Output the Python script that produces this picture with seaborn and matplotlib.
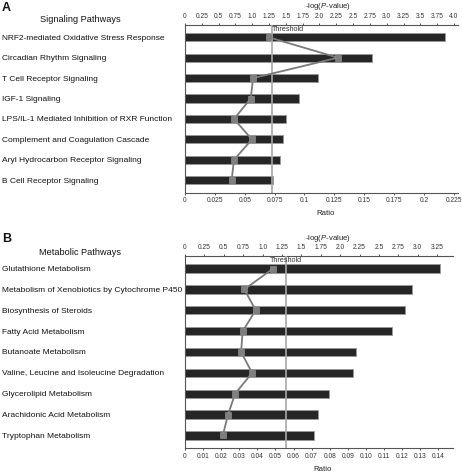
import matplotlib
matplotlib.use("Agg")
import matplotlib.pyplot as plt
import numpy as np
import seaborn as sns

# Panel A - signaling pathways
sig_names = [
    "NRF2-mediated Oxidative Stress Response",
    "Circadian Rhythm Signaling",
    "T Cell Receptor Signaling",
    "IGF-1 Signaling",
    "LPS/IL-1 Mediated Inhibition of RXR Function",
    "Complement and Coagulation Cascade",
    "Aryl Hydrocarbon Receptor Signaling",
    "B Cell Receptor Signaling",
]
sig_logp = [3.86, 2.78, 1.98, 1.69, 1.50, 1.45, 1.41, 1.31]
sig_ratio = [0.070, 0.128, 0.057, 0.055, 0.041, 0.056, 0.041, 0.039]
sig_top_ticks = [0, 0.25, 0.5, 0.75, 1.0, 1.25, 1.5, 1.75, 2.0, 2.25, 2.5, 2.75, 3.0, 3.25, 3.5, 3.75, 4.0]
sig_top_labels = ["0", "0.25", "0.5", "0.75", "1.0", "1.25", "1.5", "1.75", "2.0", "2.25",
                  "2.5", "2.75", "3.0", "3.25", "3.5", "3.75", "4.0"]
sig_ratio_ticks = [0, 0.025, 0.05, 0.075, 0.1, 0.125, 0.15, 0.175, 0.2, 0.225]
sig_ratio_labels = ["0", "0.025", "0.05", "0.075", "0.1", "0.125", "0.15", "0.175", "0.2", "0.225"]

# Panel B - metabolic pathways
met_names = [
    "Glutathione Metabolism",
    "Metabolism of Xenobiotics by Cytochrome P450",
    "Biosynthesis of Steroids",
    "Fatty Acid Metabolism",
    "Butanoate Metabolism",
    "Valine, Leucine and Isoleucine Degradation",
    "Glycerolipid Metabolism",
    "Arachidonic Acid Metabolism",
    "Tryptophan Metabolism",
]
met_logp = [3.28, 2.93, 2.84, 2.67, 2.21, 2.16, 1.86, 1.72, 1.66]
met_ratio = [0.0487, 0.0328, 0.0391, 0.0319, 0.0310, 0.0371, 0.0277, 0.0238, 0.0209]
met_top_ticks = [0, 0.25, 0.5, 0.75, 1.0, 1.25, 1.5, 1.75, 2.0, 2.25, 2.5, 2.75, 3.0, 3.25]
met_top_labels = ["0", "0.25", "0.5", "0.75", "1.0", "1.25", "1.5", "1.75", "2.0", "2.25",
                  "2.5", "2.75", "3.0", "3.25"]
met_ratio_ticks = [0, 0.01, 0.02, 0.03, 0.04, 0.05, 0.06, 0.07, 0.08, 0.09, 0.10, 0.11, 0.12, 0.13, 0.14]
met_ratio_labels = ["0", "0.01", "0.02", "0.03", "0.04", "0.05", "0.06", "0.07", "0.08", "0.09",
                    "0.10", "0.11", "0.12", "0.13", "0.14"]

threshold = 1.3

sns.set_style("white")
plt.rcParams["font.family"] = ["Liberation Sans", "DejaVu Sans"]
plt.rcParams["mathtext.fontset"] = "custom"
plt.rcParams["mathtext.rm"] = "Liberation Sans"
plt.rcParams["mathtext.it"] = "Liberation Sans:italic"

W, H = 462, 473
fig = plt.figure(figsize=(W / 100, H / 100), dpi=100)
tick_font = ["Liberation Sans Narrow", "Liberation Sans"]


def draw_panel(rect, names, logp, ratio, top_max, ratio_max, top_ticks, top_labels,
               ratio_ticks, ratio_labels, title, letter, title_y, thr_ha, thr_x):
    left, top, right, bottom = rect
    ax = fig.add_axes([left / W, 1 - bottom / H, (right - left) / W, (bottom - top) / H])
    n = len(names)

    sns.barplot(x=logp, y=names, orient="h", ax=ax, color="#262626", saturation=1,
                width=0.4, edgecolor="#9a9a9a", linewidth=0.6)
    ax.axvline(threshold, color="#a8a8a8", lw=1.2, zorder=5)
    ax.text(thr_x, -0.4, "Threshold", ha=thr_ha, va="center", fontsize=5.2,
            color="#333333", zorder=6)
    ax.set_xlim(0, top_max)
    ax.set_ylim(n - 1 + 0.6, -0.6)
    ax.set_xlabel("")
    ax.set_ylabel("")

    ax2 = ax.twiny()
    ax2.plot(ratio, np.arange(n), color="#7a7a7a", lw=1.3, marker="s",
             markersize=4.5, markerfacecolor="#7f7f7f", markeredgecolor="#9a9a9a",
             markeredgewidth=0.4)
    ax2.set_xlim(0, ratio_max)

    # bars axis on top, ratio axis at the bottom
    ax.xaxis.tick_top()
    ax2.xaxis.tick_bottom()
    ax.set_xticks(top_ticks)
    ax.set_xticklabels(top_labels, family=tick_font)
    ax2.set_xticks(ratio_ticks)
    ax2.set_xticklabels(ratio_labels, family=tick_font)
    for a in (ax, ax2):
        a.tick_params(axis="x", labelsize=4.8, length=1.5, width=0.6, pad=2,
                      colors="#333333", direction="out")
    ax.tick_params(axis="y", length=0, labelsize=6, pad=(left - 2) * 0.72,
                   labelcolor="#111111")
    for t in ax.get_yticklabels():
        t.set_ha("left")

    for a in (ax, ax2):
        for side in ("top", "right", "bottom", "left"):
            a.spines[side].set_visible(False)
    ax.spines["left"].set_visible(True)
    ax.spines["top"].set_visible(True)
    ax2.spines["bottom"].set_visible(True)
    for sp in (ax.spines["left"], ax.spines["top"], ax2.spines["bottom"]):
        sp.set_color("#555555")
        sp.set_linewidth(0.8)

    fig.text(2 / W, 1 - (top - 17) / H, letter, fontsize=9, fontweight="bold",
             ha="left", va="center", color="#111111")
    fig.text(328 / W, 1 - (top - 18) / H, "-log($\\mathit{P}$-value)", fontsize=5.6,
             ha="center", va="center", color="#222222")
    fig.text(80 / W, 1 - title_y / H, title, fontsize=6.6, ha="center", va="center",
             color="#111111")
    fig.text(((left + right) / 2 + 4) / W, 1 - (bottom + 21) / H, "Ratio", fontsize=5.6,
             ha="center", va="center", color="#222222")


draw_panel((185, 25, 458, 192.5), sig_names, sig_logp, sig_ratio, 4.06, 0.2285,
           sig_top_ticks, sig_top_labels, sig_ratio_ticks, sig_ratio_labels,
           "Signaling Pathways", "A", 20, "left", 1.29)
draw_panel((185, 256, 452.7, 448), met_names, met_logp, met_ratio, 3.45, 0.148,
           met_top_ticks, met_top_labels, met_ratio_ticks, met_ratio_labels,
           "Metabolic Pathways", "B", 252, "center", 1.3)

fig.savefig("out.png", dpi=100)
